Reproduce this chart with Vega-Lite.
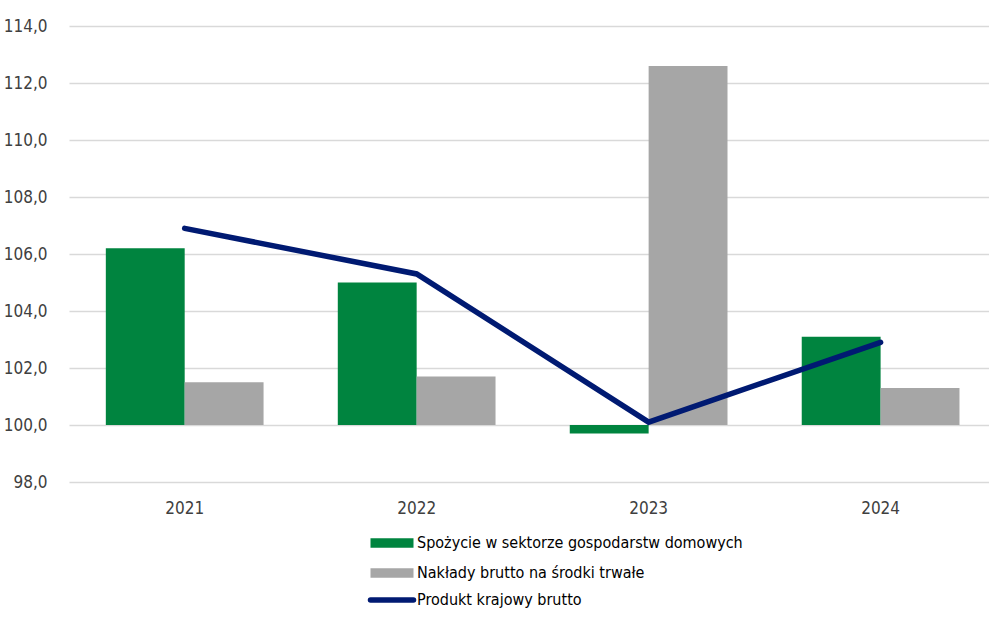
{
  "$schema": "https://vega.github.io/schema/vega-lite/v6.json",
  "width": 920,
  "height": 456,
  "autosize": {"type": "none"},
  "padding": {"left": 69, "top": 26, "right": 0, "bottom": 135},
  "background": "white",
  "config": {
    "view": {"stroke": null},
    "font": "DejaVu Sans Condensed",
    "axis": {"labelFont": "DejaVu Sans Condensed", "labelColor": "#404040", "labelFontSize": 17}
  },
  "data": {
    "values": [
      {"year": "2021", "series": "Spożycie w sektorze gospodarstw domowych", "value": 106.2},
      {"year": "2022", "series": "Spożycie w sektorze gospodarstw domowych", "value": 105.0},
      {"year": "2023", "series": "Spożycie w sektorze gospodarstw domowych", "value": 99.7},
      {"year": "2024", "series": "Spożycie w sektorze gospodarstw domowych", "value": 103.1},
      {"year": "2021", "series": "Nakłady brutto na środki trwałe", "value": 101.5},
      {"year": "2022", "series": "Nakłady brutto na środki trwałe", "value": 101.7},
      {"year": "2023", "series": "Nakłady brutto na środki trwałe", "value": 112.6},
      {"year": "2024", "series": "Nakłady brutto na środki trwałe", "value": 101.3},
      {"year": "2021", "series": "Produkt krajowy brutto", "value": 106.9},
      {"year": "2022", "series": "Produkt krajowy brutto", "value": 105.3},
      {"year": "2023", "series": "Produkt krajowy brutto", "value": 100.1},
      {"year": "2024", "series": "Produkt krajowy brutto", "value": 102.9}
    ]
  },
  "encoding": {
    "x": {
      "field": "year", "type": "nominal",
      "scale": {"paddingInner": 0.32, "paddingOuter": 0.143, "align": 0.555},
      "axis": {"title": null, "labelAngle": 0, "domain": false, "ticks": false, "labelPadding": 18}
    },
    "y": {
      "field": "value", "type": "quantitative",
      "scale": {"domain": [98, 114], "nice": false, "zero": false},
      "axis": {
        "title": null, "values": [98, 100, 102, 104, 106, 108, 110, 112, 114],
        "labelExpr": "replace(format(datum.value, '.1f'), '.', ',')",
        "domain": false, "ticks": false, "labelPadding": 22,
        "gridColor": "#d9d9d9", "gridWidth": 1.5
      }
    },
    "color": {
      "field": "series", "type": "nominal",
      "scale": {
        "domain": ["Spożycie w sektorze gospodarstw domowych", "Nakłady brutto na środki trwałe", "Produkt krajowy brutto"],
        "range": ["#00843f", "#a6a6a6", "#001a72"]
      },
      "legend": {
        "title": null, "orient": "none", "legendX": 315, "legendY": 509,
        "direction": "vertical", "padding": 0,
        "symbolType": "stroke", "symbolSize": 1850, "symbolStrokeWidth": 9,
        "labelFont": "DejaVu Sans Condensed", "labelFontSize": 16, "labelColor": "#000000",
        "labelLimit": 0, "labelOffset": 17, "rowPadding": -8,
        "encode": {
          "symbols": {
            "update": {
              "stroke": {"signal": "scale('color', datum.value)"},
              "strokeWidth": {"signal": "datum.value === 'Produkt krajowy brutto' ? 5.5 : 9.5"},
              "strokeCap": {"signal": "datum.value === 'Produkt krajowy brutto' ? 'round' : 'butt'"},
              "opacity": {"value": 1}
            }
          }
        }
      }
    }
  },
  "layer": [
    {
      "transform": [{"filter": "datum.series !== 'Produkt krajowy brutto'"}],
      "mark": {"type": "bar"},
      "encoding": {
        "xOffset": {
          "field": "series", "type": "nominal",
          "scale": {"domain": ["Spożycie w sektorze gospodarstw domowych", "Nakłady brutto na środki trwałe"], "paddingInner": 0, "paddingOuter": 0}
        },
        "y2": {"datum": 100}
      }
    },
    {
      "transform": [{"filter": "datum.series === 'Produkt krajowy brutto'"}],
      "mark": {"type": "line", "strokeWidth": 5.5, "strokeCap": "round"},
      "encoding": {}
    }
  ]
}
